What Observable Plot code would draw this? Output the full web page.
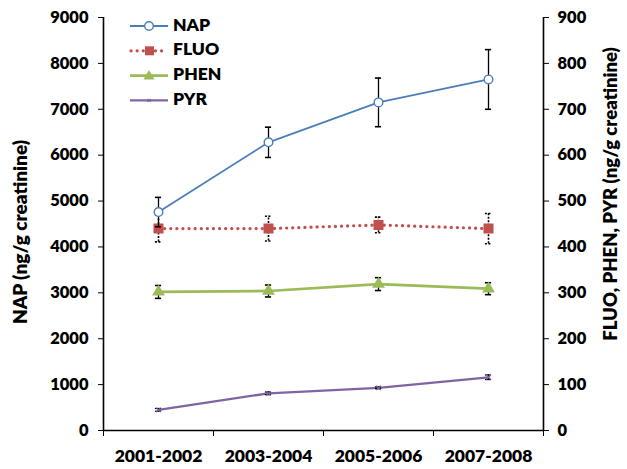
<!DOCTYPE html>
<html>
<head>
<meta charset="utf-8">
<script src="https://cdn.jsdelivr.net/npm/d3@7"></script>
<script src="https://cdn.jsdelivr.net/npm/@observablehq/plot@0.6"></script>
<style>
  html, body { margin: 0; padding: 0; background: #fff; }
  #chart { width: 627px; height: 469px; }
  svg text { font-family: Lato, "Open Sans", sans-serif; font-weight: 800; }
</style>
</head>
<body>
<div id="chart"></div>
<script>
const categories = ["2001-2002", "2003-2004", "2005-2006", "2007-2008"];
const nap = [4760, 6280, 7150, 7650];
const napErr = [320, 330, 530, 650];
const fluo = [440, 440, 448, 440];
const fluoErr = [29, 27, 17, 33];
const phen = [302, 304, 319, 309];
const phenErr = [14, 13, 14, 13];
const pyr = [45, 81, 93, 116];
const pyrErr = [3, 3, 2, 5];
const leftTicks = [0, 1000, 2000, 3000, 4000, 5000, 6000, 7000, 8000, 9000];
const legendLabels = ["NAP", "FLUO", "PHEN", "PYR"];

const rightFactor = 10; // right axis 0-900 maps to left 0-9000
const capHalf = 0.028;

function rows(vals, errs, k) {
  return vals.map((v, i) => ({x: i + 0.5, y: v * k, lo: (v - errs[i]) * k, hi: (v + errs[i]) * k}));
}
const napRows = rows(nap, napErr, 1);
const fluoRows = rows(fluo, fluoErr, rightFactor);
const phenRows = rows(phen, phenErr, rightFactor);
const pyrRows = rows(pyr, pyrErr, rightFactor);

const colors = {NAP: "#4A7EBB", FLUO: "#C0504D", PHEN: "#9BBB59", PYR: "#8064A2"};

function errMarks(data, opts) {
  return [
    Plot.ruleX(data, {x: "x", y1: "lo", y2: "hi", stroke: "#000", strokeWidth: 1.3, ...opts}),
    Plot.ruleY(data, {y: "hi", x1: d => d.x - capHalf, x2: d => d.x + capHalf, stroke: "#000", strokeWidth: 1.6, ...opts}),
    Plot.ruleY(data, {y: "lo", x1: d => d.x - capHalf, x2: d => d.x + capHalf, stroke: "#000", strokeWidth: 1.6, ...opts})
  ];
}

const chart = Plot.plot({
  width: 627,
  height: 469,
  marginLeft: 103,
  marginRight: 84,
  marginTop: 17,
  marginBottom: 39,
  style: {fontFamily: "Lato, 'Open Sans', sans-serif", fontWeight: 800, color: "#000", background: "#fff"},
  x: {type: "linear", domain: [0, 4]},
  y: {domain: [0, 9000]},
  marks: [
    Plot.axisY({anchor: "left", ticks: leftTicks, tickSize: 5, tickPadding: 10, label: null, fontSize: 16.5, tickFormat: d => String(d)}),
    Plot.axisY({anchor: "right", ticks: leftTicks, tickSize: 5, tickPadding: 9, label: null, fontSize: 16.5, tickFormat: d => String(d / rightFactor)}),
    Plot.axisX({ticks: [0, 1, 2, 3, 4], tickSize: 6, tickFormat: () => "", label: null}),
    Plot.axisX({ticks: categories.map((c, i) => i + 0.5), tickSize: 0, tickPadding: 19, fontSize: 17.5, label: null, tickFormat: d => categories[Math.floor(d)]}),
    Plot.ruleX([0, 4], {stroke: "#000", strokeWidth: 1.6}),
    Plot.ruleY([0], {stroke: "#000", strokeWidth: 1.6}),

    // PYR
    Plot.line(pyrRows, {x: "x", y: "y", stroke: colors.PYR, strokeWidth: 2.25}),
    ...errMarks(pyrRows, {strokeWidth: 1.2}),
    Plot.dot(pyrRows, {x: "x", y: "y", symbol: "times", r: 2.2, stroke: colors.PYR, strokeWidth: 1.2}),

    // PHEN
    Plot.line(phenRows, {x: "x", y: "y", stroke: colors.PHEN, strokeWidth: 2.75}),
    ...errMarks(phenRows, {}),
    Plot.dot(phenRows, {x: "x", y: "y", symbol: "triangle", r: 3.8, fill: colors.PHEN, stroke: colors.PHEN}),

    // FLUO
    Plot.line(fluoRows, {x: "x", y: "y", stroke: colors.FLUO, strokeWidth: 3.2, strokeDasharray: "0.1 6", strokeLinecap: "round"}),
    ...errMarks(fluoRows, {strokeDasharray: "2 1.5", strokeWidth: 1.6}),
    Plot.dot(fluoRows, {x: "x", y: "y", symbol: "square", r: 4.8, fill: colors.FLUO, stroke: colors.FLUO}),

    // NAP
    Plot.line(napRows, {x: "x", y: "y", stroke: colors.NAP, strokeWidth: 1.8}),
    ...errMarks(napRows, {}),
    Plot.dot(napRows, {x: "x", y: "y", r: 4.3, fill: "#fff", stroke: colors.NAP, strokeWidth: 1.4})
  ]
});

document.getElementById("chart").appendChild(chart);
const svg = d3.select(chart);

// Axis titles
svg.append("text")
  .attr("transform", "translate(22,232) rotate(-90)")
  .attr("text-anchor", "middle").attr("dominant-baseline", "middle")
  .attr("font-size", 19).attr("fill", "#000")
  .text("NAP (ng/g creatinine)");
svg.append("text")
  .attr("transform", "translate(612,194) rotate(-90)")
  .attr("text-anchor", "middle").attr("dominant-baseline", "middle")
  .attr("font-size", 18.5).attr("fill", "#000")
  .text("FLUO, PHEN, PYR (ng/g creatinine)");

// Legend
const lg = svg.append("g");
legendLabels.forEach((name, i) => {
  const y = 26 + i * 24.8;
  const g = lg.append("g").attr("transform", `translate(0,${y})`);
  const c = colors[name];
  if (name === "FLUO") {
    g.append("line").attr("x1", 131).attr("x2", 167).attr("y1", 0).attr("y2", 0)
      .attr("stroke", c).attr("stroke-width", 3.2).attr("stroke-dasharray", "0.1 6").attr("stroke-linecap", "round");
    g.append("rect").attr("x", 145).attr("y", -4.5).attr("width", 9).attr("height", 9).attr("fill", c);
  } else {
    g.append("line").attr("x1", 130).attr("x2", 168).attr("y1", 0).attr("y2", 0)
      .attr("stroke", c).attr("stroke-width", name === "PHEN" ? 2.75 : (name === "NAP" ? 1.8 : 2.25));
    if (name === "NAP") {
      g.append("circle").attr("cx", 149).attr("cy", 0).attr("r", 4.3).attr("fill", "#fff").attr("stroke", c).attr("stroke-width", 1.4);
    } else if (name === "PHEN") {
      g.append("path").attr("d", "M149,-5.5L154.5,4L143.5,4Z").attr("fill", c);
    } else {
      g.append("path").attr("d", "M147.5,-1.5L150.5,1.5M150.5,-1.5L147.5,1.5").attr("stroke", c).attr("stroke-width", 1.2);
    }
  }
  g.append("text").attr("x", 173).attr("y", 0).attr("text-anchor", "start").attr("dominant-baseline", "middle")
    .attr("font-size", 17.5).attr("fill", "#000").text(name);
});
</script>
</body>
</html>
